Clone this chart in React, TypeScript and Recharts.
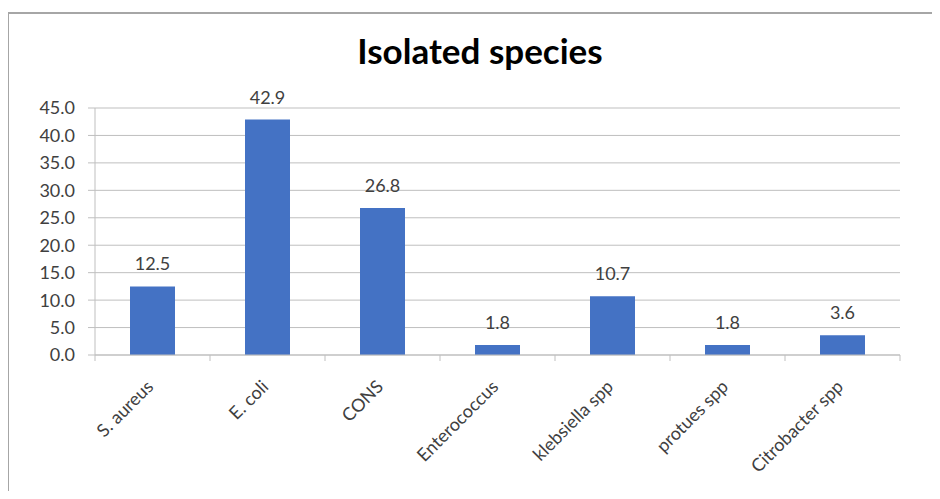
import { BarChart, Bar, XAxis, YAxis, CartesianGrid, LabelList } from 'recharts'

const species = [
  'S. aureus',
  'E. coli',
  'CONS',
  'Enterococcus',
  'klebsiella spp',
  'protues spp',
  'Citrobacter spp',
]
const percents = [12.5, 42.9, 26.8, 1.8, 10.7, 1.8, 3.6]
const yTicks = [0, 5, 10, 15, 20, 25, 30, 35, 40, 45]

const data = species.map((name, i) => ({ name, value: percents[i] }))

const FONT = 'Lato, "Open Sans", sans-serif'
const TEXT = '#404040'
const GRID = '#bfbfbf'

const CategoryTick = (props: any) => {
  const { x, y, payload, index, visibleTicksCount } = props
  const half = payload.offset || 0
  const isLast = index === visibleTicksCount - 1
  return (
    <g>
      <line x1={x - half} y1={y - 8} x2={x - half} y2={y - 2} stroke={GRID} />
      {isLast && <line x1={x + half} y1={y - 8} x2={x + half} y2={y - 2} stroke={GRID} />}
      <text
        transform={`translate(${x - 3}, ${y + 20}) rotate(-45)`}
        textAnchor="end"
        dominantBaseline="central"
        fontFamily={FONT}
        fontSize={18}
        fill={TEXT}
      >
        {payload.value}
      </text>
    </g>
  )
}

const App = () => {
  return (
    <div
      style={{
        position: 'relative',
        width: 940,
        height: 499,
        margin: -8,
        overflow: 'hidden',
        background: '#fff',
      }}
    >
      <div style={{ position: 'absolute', left: 0, top: 0, width: 940, height: 3, background: '#1e6fbe' }} />
      <div
        style={{
          position: 'absolute',
          left: 7,
          top: 12,
          width: 960,
          height: 520,
          borderTop: '2px solid #a6a6a6',
          borderLeft: '2px solid #a6a6a6',
        }}
      />
      <div
        style={{
          position: 'absolute',
          left: 0,
          top: 29,
          width: 960,
          textAlign: 'center',
          fontFamily: FONT,
          fontWeight: 700,
          fontSize: 35,
          lineHeight: '42px',
          color: '#000',
        }}
      >
        Isolated species
      </div>
      <div style={{ position: 'absolute', left: 0, top: 0 }}>
        <BarChart
          width={940}
          height={499}
          data={data}
          margin={{ top: 108, right: 40, left: 0, bottom: 0 }}
        >
          <CartesianGrid vertical={false} stroke={GRID} />
          <XAxis
            dataKey="name"
            height={144}
            axisLine={{ stroke: GRID }}
            tickLine={false}
            interval={0}
            tick={<CategoryTick />}
          />
          <YAxis
            width={95}
            domain={[0, 45]}
            ticks={yTicks}
            interval={0}
            axisLine={{ stroke: GRID }}
            tickLine={{ stroke: GRID }}
            tickSize={7}
            tickMargin={13}
            tickFormatter={(v: number) => v.toFixed(1)}
            tick={{ fontFamily: FONT, fontSize: 18, fill: TEXT }}
          />
          <Bar dataKey="value" fill="#4472c4" barSize={45} isAnimationActive={false}>
            <LabelList
              dataKey="value"
              position="top"
              offset={16}
              formatter={(v: any) => Number(v).toFixed(1)}
              style={{ fontFamily: FONT, fontSize: 18, fill: TEXT }}
            />
          </Bar>
        </BarChart>
      </div>
    </div>
  )
}

export default App
